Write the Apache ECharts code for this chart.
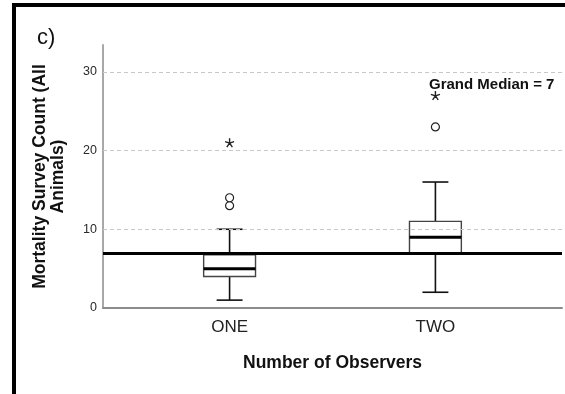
<!DOCTYPE html>
<html>
<head>
<meta charset="utf-8">
<script src="https://cdn.jsdelivr.net/npm/echarts@6/dist/echarts.min.js"></script>
<style>
html,body{margin:0;padding:0;background:#fff;}
#chart{width:565px;height:394px;}
</style>
</head>
<body>
<div id="chart"></div>
<script>
// ---- data ----
const categories = ['ONE', 'TWO'];
const whiskerLow = [1, 2];
const q1 = [4, 7];
const median = [5, 9];
const q3 = [6.75, 11];
const whiskerHigh = [10, 16];
const outlierCat = [0, 0, 1];          // index into categories
const outlierVal = [13, 14, 23];
const extremeCat = [0, 1];
const extremeVal = [21, 27];
const grandMedian = 7;
const yTicks = [0, 10, 20, 30];
const gridTicks = [10, 20, 30];

const FONT = 'Liberation Sans, Arial, sans-serif';
const chart = echarts.init(document.getElementById('chart'));

const boxData = categories.map((c, i) => [i + 1, whiskerLow[i], q1[i], median[i], q3[i], whiskerHigh[i]]);
const outData = outlierVal.map((v, i) => [outlierCat[i] + 1, v]);
const extData = extremeVal.map((v, i) => [extremeCat[i] + 1, v]);

const starPath = 'path://M0,-10 L0,0 M0,0 L9.5,-3.1 M0,0 L5.9,8.1 M0,0 L-5.9,8.1 M0,0 L-9.5,-3.1';

chart.setOption({
  animation: false,
  grid: { left: 103, right: 3, top: 45, bottom: 86 },
  xAxis: {
    type: 'value',
    min: 0.385,
    max: 2.615,
    name: 'Number of Observers',
    nameLocation: 'middle',
    nameGap: 46,
    nameTextStyle: { fontFamily: FONT, fontSize: 17.5, fontWeight: 'bold', color: '#111' },
    axisLine: { show: true, lineStyle: { color: '#8c8c8c', width: 2 } },
    axisTick: { show: false },
    splitLine: { show: false },
    axisLabel: {
      customValues: [1, 2],
      formatter: v => categories[Math.round(v) - 1] || '',
      margin: 11,
      fontFamily: FONT, fontSize: 17, color: '#222'
    }
  },
  yAxis: {
    type: 'value',
    min: 0,
    max: 33.4,
    name: 'Mortality Survey Count (All\nAnimals)',
    nameLocation: 'middle',
    nameRotate: 90,
    nameGap: 36,
    nameTextStyle: { fontFamily: FONT, fontSize: 17.5, fontWeight: 'bold', color: '#111', lineHeight: 18, align: 'center' },
    axisLine: { show: true, lineStyle: { color: '#a8a8a8', width: 2 } },
    axisTick: { show: false },
    splitLine: { show: false },
    axisLabel: {
      customValues: yTicks,
      margin: 6,
      fontFamily: FONT, fontSize: 12.5, color: '#2a2a2a'
    }
  },
  graphic: [
    { type: 'rect', shape: { x: 12, y: 3, width: 4, height: 391 }, style: { fill: '#000' } },
    { type: 'rect', shape: { x: 12, y: 3, width: 553, height: 4 }, style: { fill: '#000' } },
    { type: 'text', left: 37, top: 27, style: { text: 'c)', fontFamily: FONT, fontSize: 22, fill: '#111' } },
    { type: 'text', left: 429, top: 77, style: { text: 'Grand Median = 7', fontFamily: FONT, fontSize: 15, fontWeight: 'bold', fill: '#111' } }
  ],
  series: [
    {
      type: 'scatter',
      data: [],
      z: 1,
      silent: true,
      markLine: {
        silent: true,
        symbol: ['none', 'none'],
        label: { show: false },
        lineStyle: { color: '#c8c8c8', type: [4, 3], width: 1 },
        data: gridTicks.map(v => ({ yAxis: v }))
      }
    },
    {
      type: 'custom',
      z: 3,
      data: boxData,
      renderItem: function (params, api) {
        const x = api.value(0);
        const lo = api.coord([x, api.value(1)]);
        const b1 = api.coord([x, api.value(2)]);
        const md = api.coord([x, api.value(3)]);
        const b3 = api.coord([x, api.value(4)]);
        const hi = api.coord([x, api.value(5)]);
        const unit = api.size([1, 0])[0];
        const bw = unit * 0.252;
        const cw = unit * 0.126;
        const cx = lo[0];
        const wl = { stroke: '#111', lineWidth: 1.6 };
        return {
          type: 'group',
          children: [
            { type: 'line', shape: { x1: cx, y1: hi[1], x2: cx, y2: b3[1] }, style: wl },
            { type: 'line', shape: { x1: cx, y1: b1[1], x2: cx, y2: lo[1] }, style: wl },
            { type: 'line', shape: { x1: cx - cw / 2, y1: hi[1], x2: cx + cw / 2, y2: hi[1] }, style: wl },
            { type: 'line', shape: { x1: cx - cw / 2, y1: lo[1], x2: cx + cw / 2, y2: lo[1] }, style: wl },
            { type: 'rect', shape: { x: cx - bw / 2, y: b3[1], width: bw, height: b1[1] - b3[1] }, style: { fill: '#fff', stroke: '#444', lineWidth: 1.4 } },
            { type: 'line', shape: { x1: cx - bw / 2, y1: md[1], x2: cx + bw / 2, y2: md[1] }, style: { stroke: '#000', lineWidth: 3 } }
          ]
        };
      }
    },
    {
      type: 'scatter',
      z: 4,
      data: outData,
      symbol: 'circle',
      symbolSize: 8,
      itemStyle: { color: '#fff', borderColor: '#222', borderWidth: 1.2, opacity: 1 }
    },
    {
      type: 'scatter',
      z: 4,
      data: extData,
      symbol: starPath,
      symbolSize: 9,
      itemStyle: { color: 'none', borderColor: '#222', borderWidth: 1.4, opacity: 1 }
    },
    {
      type: 'scatter',
      data: [],
      z: 6,
      silent: true,
      markLine: {
        silent: true,
        symbol: ['none', 'none'],
        label: { show: false },
        lineStyle: { color: '#000', type: 'solid', width: 3 },
        data: [{ yAxis: grandMedian }]
      }
    }
  ]
});
</script>
</body>
</html>
